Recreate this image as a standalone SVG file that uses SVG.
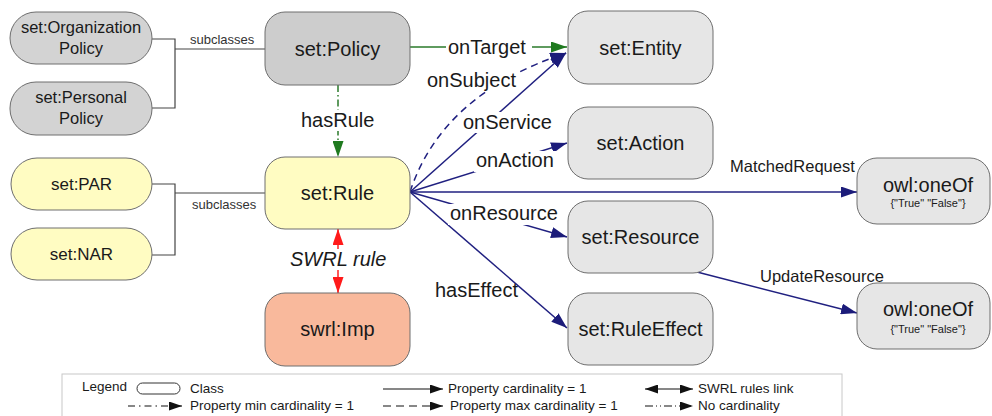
<svg xmlns="http://www.w3.org/2000/svg" width="992" height="416" viewBox="0 0 992 416">
<defs>
<style>
text{font-family:"Liberation Sans",Arial,Helvetica,sans-serif;fill:#1a1a1a}
.n{stroke:#6e6e6e;stroke-width:1}
.gd{fill:#cdcdcd}
.gl{fill:#d3d3d3}
.gr{fill:#e6e6e6}
.ye{fill:#fffcc2}
.sa{fill:#f9b99c}
.t20{font-size:20px;text-anchor:middle}
.t17{font-size:17px;text-anchor:middle}
.t16{font-size:16.5px;text-anchor:middle}
.t11{font-size:11px;text-anchor:middle}
.lb{font-size:20px}
.lb16{font-size:16.5px}
.sub{font-size:13px;fill:#333}
.br{fill:none;stroke:#444;stroke-width:1.2}
.nv{fill:none;stroke:#202080;stroke-width:1.5}
.gn{fill:none;stroke:#2a7a2a;stroke-width:1.5}
.rd{fill:none;stroke:#ff2020;stroke-width:1.5}
.bg{fill:#ffffff}
.lg{font-size:13.5px}
.lk{fill:none;stroke:#111;stroke-width:1.2}
</style>
<marker id="aN" markerWidth="16" markerHeight="11" refX="16" refY="5.5" orient="auto" markerUnits="userSpaceOnUse"><path d="M0,0 L16,5.5 L0,11 z" fill="#1c1c7a"/></marker>
<marker id="aG" markerWidth="16" markerHeight="11" refX="16" refY="5.5" orient="auto" markerUnits="userSpaceOnUse"><path d="M0,0 L16,5.5 L0,11 z" fill="#1f7a1f"/></marker>
<marker id="aR" markerWidth="16" markerHeight="11" refX="16" refY="5.5" orient="auto-start-reverse" markerUnits="userSpaceOnUse"><path d="M0,0 L16,5.5 L0,11 z" fill="#ff1a1a"/></marker>
<marker id="aK" markerWidth="13" markerHeight="9" refX="13" refY="4.5" orient="auto-start-reverse" markerUnits="userSpaceOnUse"><path d="M0,0 L13,4.5 L0,9 z" fill="#111"/></marker>
</defs>
<rect x="0" y="0" width="992" height="416" fill="#ffffff"/>

<g id="connectors">
  <path class="br" d="M152,39 H175 V108 H152 M175,49 H265"/>
  <path class="br" d="M152,184 H175 V255 H152 M175,193 H265"/>
  <text class="sub" x="190" y="44">subclasses</text>
  <text class="sub" x="192" y="209">subclasses</text>

  <path class="gn" d="M410,47 H567" marker-end="url(#aG)"/>
  <path class="gn" d="M338,85 V157" stroke-dasharray="7 3 1.5 3" marker-end="url(#aG)"/>
  <path class="rd" d="M338,229 V293" marker-start="url(#aR)" marker-end="url(#aR)"/>

  <path class="nv" d="M410,192 Q442,94 566,53" stroke-dasharray="7 5" marker-end="url(#aN)"/>
  <path class="nv" d="M410,192 L566,53" marker-end="url(#aN)"/>
  <path class="nv" d="M410,192 L567,143" marker-end="url(#aN)"/>
  <path class="nv" d="M410,192 H857" marker-end="url(#aN)"/>
  <path class="nv" d="M410,192 L567,237" marker-end="url(#aN)"/>
  <path class="nv" d="M410,192 L567,328" marker-end="url(#aN)"/>
  <path class="nv" d="M697,272 L857,313" marker-end="url(#aN)"/>

  <rect class="bg" x="446" y="38" width="86" height="19"/>
  <text class="lb" x="448" y="54">onTarget</text>
  <rect class="bg" x="425" y="70" width="94" height="21"/>
  <text class="lb" x="427" y="87">onSubject</text>
  <rect class="bg" x="462" y="112" width="92" height="21"/>
  <text class="lb" x="463" y="129">onService</text>
  <rect class="bg" x="474" y="151" width="82" height="21"/>
  <text class="lb" x="476" y="167">onAction</text>
  <rect class="bg" x="448" y="204" width="112" height="21"/>
  <text class="lb" x="450" y="220">onResource</text>
  <text class="lb" x="435" y="297">hasEffect</text>
  <rect class="bg" x="298" y="110" width="78" height="21"/>
  <text class="lb" x="301" y="127">hasRule</text>
  <rect class="bg" x="288" y="249" width="100" height="21"/>
  <text class="lb" x="290" y="266" font-style="italic">SWRL rule</text>
  <text class="lb16" x="730" y="172">MatchedRequest</text>
  <text class="lb16" x="760" y="282">UpdateResource</text>
</g>

<g id="n-orgpolicy">
  <rect class="n gl" x="10" y="12" width="142" height="52" rx="26"/>
  <text class="t16" x="81" y="33">set:Organization</text>
  <text class="t16" x="81" y="54">Policy</text>
</g>
<g id="n-perspolicy">
  <rect class="n gl" x="10" y="82" width="142" height="53" rx="26"/>
  <text class="t16" x="81" y="103">set:Personal</text>
  <text class="t16" x="81" y="124">Policy</text>
</g>
<g id="n-policy">
  <rect class="n gd" x="265" y="12" width="145" height="73" rx="20"/>
  <text class="t20" x="337.5" y="56">set:Policy</text>
</g>
<g id="n-par">
  <rect class="n ye" x="11" y="158" width="141" height="52" rx="26"/>
  <text class="t17" x="81.5" y="190">set:PAR</text>
</g>
<g id="n-nar">
  <rect class="n ye" x="11" y="228" width="141" height="52" rx="26"/>
  <text class="t17" x="81.5" y="260">set:NAR</text>
</g>
<g id="n-rule">
  <rect class="n ye" x="265" y="157" width="145" height="72" rx="20"/>
  <text class="t20" x="337.5" y="200">set:Rule</text>
</g>
<g id="n-imp">
  <rect class="n sa" x="265" y="293" width="145" height="73" rx="20"/>
  <text class="t20" x="337.5" y="336">swrl:Imp</text>
</g>
<g id="n-entity">
  <rect class="n gr" x="568" y="11" width="145" height="73" rx="20"/>
  <text class="t20" x="640.5" y="55">set:Entity</text>
</g>
<g id="n-action">
  <rect class="n gr" x="568" y="107" width="145" height="72" rx="20"/>
  <text class="t20" x="640.5" y="150">set:Action</text>
</g>
<g id="n-resource">
  <rect class="n gr" x="568" y="201" width="145" height="72" rx="20"/>
  <text class="t20" x="640.5" y="244">set:Resource</text>
</g>
<g id="n-ruleeffect">
  <rect class="n gr" x="568" y="293" width="145" height="72" rx="20"/>
  <text class="t20" x="640.5" y="336">set:RuleEffect</text>
</g>
<g id="n-oneof1">
  <rect class="n gr" x="857" y="158" width="133" height="66" rx="20"/>
  <text class="t20" x="928" y="192">owl:oneOf</text>
  <text class="t11" x="928" y="207">{"True" "False"}</text>
</g>
<g id="n-oneof2">
  <rect class="n gr" x="857" y="283" width="133" height="66" rx="20"/>
  <text class="t20" x="928" y="316">owl:oneOf</text>
  <text class="t11" x="928" y="333">{"True" "False"}</text>
</g>

<g id="legend">
  <rect x="62" y="374" width="780" height="60" fill="#ffffff" stroke="#c8c8c8" stroke-width="1"/>
  <text class="lg" x="82" y="391">Legend</text>
  <rect x="137" y="383" width="43" height="11" rx="5.5" fill="#ffffff" stroke="#333" stroke-width="1"/>
  <text class="lg" x="190" y="393">Class</text>
  <path class="lk" d="M128,406 H182" stroke-dasharray="7 4 1.5 4" marker-end="url(#aK)"/>
  <text class="lg" x="190" y="410">Property min cardinality = 1</text>
  <path class="lk" d="M383,389 H443" marker-end="url(#aK)"/>
  <text class="lg" x="448" y="393">Property cardinality = 1</text>
  <path class="lk" d="M383,406 H443" stroke-dasharray="8 5" marker-end="url(#aK)"/>
  <text class="lg" x="450" y="410">Property max cardinality = 1</text>
  <path class="lk" d="M645,389 H693" marker-start="url(#aK)" marker-end="url(#aK)"/>
  <text class="lg" x="698" y="393">SWRL rules link</text>
  <path class="lk" d="M645,406 H693" stroke-dasharray="8 3 1 3 1 3" marker-end="url(#aK)"/>
  <text class="lg" x="698" y="410">No cardinality</text>
</g>
</svg>
